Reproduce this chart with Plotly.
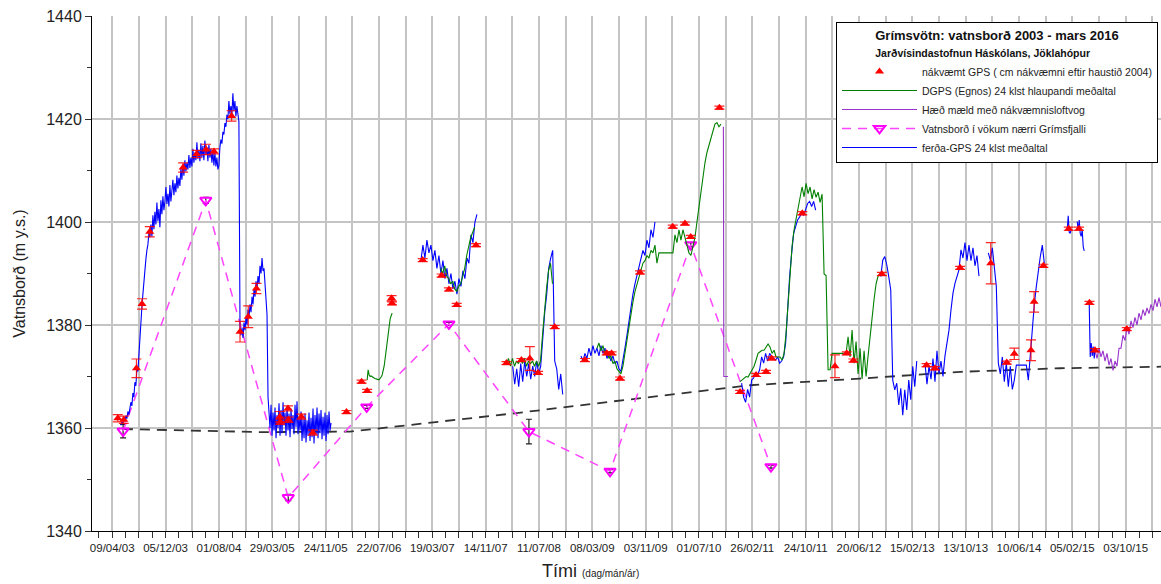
import pandas as pd
import plotly.graph_objects as go

# ---------------- data ----------------
X_LABELS = ["09/04/03", "05/12/03", "01/08/04", "29/03/05", "24/11/05", "22/07/06",
            "19/03/07", "14/11/07", "11/07/08", "08/03/09", "03/11/09", "01/07/10",
            "26/02/11", "24/10/11", "20/06/12", "15/02/13", "13/10/13", "10/06/14",
            "05/02/15", "03/10/15"]
TICK_START = "2003-04-09"

# blue: ferða-GPS 24 klst meðaltal  (start date, sampling step in days, values); None = data gap
BLUE = [
    ("2003-05-18", 4.5, [1360.5, 1361.2, 1360.8, 1361.9, 1361.3, 1362.4, 1361.8, 1363.2, 1362.6, 1364.1,
                         1365.0, 1364.3, 1366.8, 1366.0, 1368.9, 1368.2, 1371.5, 1371.0, 1374.8, 1376.5,
                         1380.0, 1383.5, 1386.0, 1388.9, 1391.0, 1392.8, 1394.5, 1395.6, 1397.8, 1397.0,
                         1399.5, 1397.2, 1401.3, 1398.6, 1402.0, 1399.5, 1403.8, 1400.2, 1402.5, 1399.0,
                         1404.2, 1401.5, 1405.0, 1402.3, 1404.0, 1406.8, 1403.5, 1405.5, 1403.0, 1407.2,
                         1404.0, 1406.5, 1408.2, 1405.2, 1407.5, 1405.8, 1409.0, 1406.5, 1408.6, 1407.0,
                         1410.5, 1408.2, 1411.2, 1409.0, 1412.0, 1409.8, 1411.5, 1410.2, 1413.0, 1410.5,
                         1412.5, 1410.8, 1414.2, 1411.5, 1413.5, 1412.0, 1415.5, 1412.3, 1414.0, 1411.8,
                         1415.3, 1412.5, 1414.8, 1412.0, 1415.8, 1413.0, 1414.5, 1411.8, 1415.0, 1412.5,
                         1414.2, 1411.5, 1413.8, 1411.0, 1413.5, 1410.8, 1412.5, 1410.2, 1411.0, 1414.5,
                         1416.0, 1415.2, 1417.5, 1417.0, 1419.2, 1418.5, 1420.8, 1420.0, 1423.5, 1421.0,
                         1422.5, 1420.8, 1425.0, 1421.5, 1423.5, 1420.5, 1422.5, 1421.0, 1419.5]),
    ("2004-11-04", 4.5, [1379.0, 1378.0, 1379.5, 1377.5, 1380.5, 1379.0, 1381.5, 1380.0, 1383.0, 1381.5,
                         1384.0, 1382.5, 1385.5, 1384.0, 1387.0, 1385.5, 1388.5, 1387.0, 1389.5, 1388.0,
                         1391.5, 1390.0, 1393.0, 1390.5, 1391.0, 1388.5, 1386.0, 1382.0, 1366.0, 1363.0,
                         1360.0, 1364.5, 1358.5, 1363.0, 1359.5, 1364.0, 1358.0, 1362.5, 1360.0, 1364.8,
                         1358.5, 1363.5, 1359.0, 1365.0, 1360.5, 1363.0, 1358.5, 1364.2, 1359.5, 1362.8,
                         1358.2, 1363.8, 1359.8, 1362.5, 1358.8, 1364.5, 1360.2, 1365.2, 1358.8, 1362.0,
                         1359.5, 1363.2, 1357.5, 1361.8, 1358.0, 1362.8, 1357.2, 1361.5, 1358.5, 1363.0,
                         1357.5, 1362.0, 1358.2, 1363.8, 1357.0, 1362.5, 1358.8, 1364.0, 1358.0, 1362.8,
                         1359.0, 1363.5, 1357.8, 1362.2, 1358.5, 1363.0, 1357.5, 1362.5, 1358.8, 1363.2,
                         1359.5, 1361.0]),
    None,
    ("2007-01-27", 9, [1392.5, 1395.5, 1393, 1396.5, 1394, 1395.5, 1392.5, 1394.5, 1391, 1393.5,
                       1390, 1392.5, 1389, 1391, 1388, 1390, 1387, 1388.5, 1386, 1389,
                       1387.5, 1390.5, 1389, 1393, 1392, 1397.5, 1396, 1400, 1401.5]),
    None,
    ("2008-03-15", 9, [1372, 1368.5, 1371.5, 1368, 1372.5, 1369, 1373, 1370, 1372.5, 1369.5,
                       1372, 1370, 1373, 1370.5, 1372, 1378, 1382.5, 1386, 1391, 1393,
                       1394.5, 1373, 1371.5, 1367.5, 1370.5, 1366.5]),
    None,
    ("2009-01-16", 9, [1374, 1373, 1374.5, 1373.5, 1375.5, 1374, 1376, 1374.5, 1375.5, 1374,
                       1376, 1374.5, 1375.5, 1373.5, 1374.5, 1373, 1374, 1372.5, 1373, 1371.5,
                       1371, 1373, 1375.5, 1378, 1381, 1383.5, 1386, 1388, 1389.5, 1391.5,
                       1393, 1394.5, 1393.5, 1396.5, 1395, 1398.5, 1397, 1400]),
    None,
    ("2011-01-09", 9, [1368.7, 1366, 1365, 1367.5, 1366, 1369.3, 1369.7, 1370.7, 1370.3, 1371.3,
                       1373.8, 1372.6, 1374.5, 1373, 1374.5, 1373.8, 1373.5, 1373.2, 1373.8, 1372.6,
                       1373, 1373.8, 1376.5, 1383.6, 1389.4, 1393.9, 1397.8, 1399.1, 1400.4, 1401,
                       1401.7, 1401.3, 1402.3, 1403.6, 1404, 1403, 1404, 1402.3]),
    None,
    ("2012-09-26", 9, [1389.4, 1392.6, 1393.3, 1391.7, 1389.4, 1386.8, 1369.3, 1367.4, 1368.7, 1364.5,
                       1367.7, 1362.5, 1367.4, 1363.5, 1369.3, 1365.5, 1372, 1368, 1373]),
    None,
    ("2013-04-13", 9, [1372.6, 1368.5, 1372, 1369.5, 1373.5, 1369, 1375, 1370.5, 1373, 1370,
                       1374, 1376.4, 1379, 1382.9, 1386.2, 1388.1, 1389.4, 1390.7, 1394.6, 1393,
                       1396, 1392.5, 1395.5, 1392.5, 1395, 1391.5, 1393.5, 1389.5]),
    None,
    ("2014-01-23", 9, [1394, 1392.6, 1395, 1391, 1387.5, 1372.6, 1370.5, 1373.8, 1369, 1372.6,
                       1368, 1372, 1367.5, 1369.3, 1372.2, 1372.2, 1372.2, 1372.2, 1372.2, 1372.2,
                       1369.3, 1374.5, 1379, 1384, 1387.5, 1391, 1393.3, 1395.5, 1392]),
    None,
    ("2015-01-13", 4.5, [1398.5, 1401.2, 1398, 1397.8, 1398.6]),
    None,
    ("2015-02-27", 4.5, [1400.1, 1398.5, 1400.4, 1397.8, 1397.2, 1398.5, 1395.2, 1394.4]),
    None,
    ("2015-04-22", 4.5, [1384.2, 1373.8, 1376.5, 1374, 1375.8, 1373.5, 1375.3]),
]

# green: DGPS (Egnos) 24 klst hlaupandi meðaltal
GREEN = [
    ("2006-05-30", 4.5, [1369.3, 1371.3, 1370.3, 1370, 1370.1, 1369.9, 1369.8, 1369.7, 1369.6, 1369.5,
                         1369.4, 1369.4, 1369.4, 1369.6, 1369.9, 1370.3, 1371, 1372, 1373.5, 1375,
                         1377, 1379, 1380.4, 1381.2, 1381.8, 1382.3]),
    None,
    ("2007-04-26", 9, [1391, 1390, 1391.5, 1389.5, 1389, 1388, 1388.5, 1387, 1386.5, 1387.5,
                       1388, 1389.5, 1391, 1393.5, 1395.5, 1397, 1398, 1399]),
    None,
    ("2008-02-16", 9, [1372.5, 1373.5, 1372, 1373.5, 1372, 1373, 1372.5, 1373.5, 1372.5, 1373.5,
                       1372, 1373, 1372.5, 1373, 1372, 1373, 1372, 1373, 1378, 1383,
                       1387, 1390.5, 1392, 1388]),
    None,
    ("2009-03-29", 9, [1375.5, 1376.5, 1375, 1376, 1374.5, 1375, 1373.5, 1374, 1372.5, 1373,
                       1371.5, 1371, 1370.5, 1372, 1374.5, 1377, 1380, 1382.5, 1384.5, 1386.5,
                       1388, 1389.5, 1390.5, 1392, 1392.5, 1393.5, 1393, 1394.5, 1394, 1395.5,
                       1392, 1394, 1394, 1394, 1394, 1394, 1394, 1394, 1394, 1397.5,
                       1396, 1398.5, 1396.5, 1398.5, 1397, 1395.5, 1394, 1393.5, 1395.5, 1397,
                       1400, 1403, 1406, 1409, 1411.5, 1413.5, 1415, 1416.5, 1418, 1419,
                       1419.3, 1418.5, 1419]),
    None,
    ("2011-01-02", 9, [1369, 1369.3, 1369.7, 1370, 1369.9, 1370.6, 1371.3, 1372, 1373.2, 1374.5,
                       1374.8, 1375.1, 1375.1, 1375.7, 1376.3, 1375.7, 1374.5, 1375.1, 1373.8, 1373.8,
                       1373.8, 1373.2, 1374.5, 1378.4, 1384.3, 1390.1, 1395.3, 1398.5, 1400.5, 1402.5,
                       1404.4, 1406.8, 1404.9, 1407.5, 1405.5, 1406.8, 1404.5, 1406.3, 1404.8, 1405.8,
                       1403.8, 1405.4, 1389.9, 1389.6, 1371.3, 1371.3, 1374.5, 1374.5, 1374.5, 1374.5,
                       1374.5, 1374.5, 1374.5, 1374.5, 1377.7, 1373.8, 1379, 1372.6, 1376.8, 1370.5,
                       1375.5, 1369.5, 1375, 1370, 1374, 1377.7, 1382, 1385, 1388, 1389.5,
                       1390, 1390.5]),
]

# purple: Hæð mæld með nákvæmnisloftvog
PURPLE = [
    ("2010-10-19", 2, [1418.5, 1370]),
    ("2010-11-09", 1, [1370]),
    None,
    ("2015-05-18", 9, [1375.1, 1373.5, 1375.5, 1373.8, 1375, 1373, 1374.5, 1372.2, 1373.5, 1371.2,
                       1373, 1372, 1375.5, 1375.5, 1378, 1377, 1379.5, 1378.2, 1380.8, 1379.5,
                       1381.5, 1380, 1382.3, 1381, 1383, 1381.8, 1383.3, 1382.2, 1384, 1382.8,
                       1385, 1383.5, 1385.3, 1383.5]),
]

# red: nákvæmt GPS
GPS_DATES = ["2003-05-04", "2003-05-31", "2003-07-27", "2003-08-21", "2003-09-25", "2004-02-22",
             "2004-04-23", "2004-06-04", "2004-07-10", "2004-09-27", "2004-11-04", "2004-12-11",
             "2005-01-17", "2005-05-02", "2005-05-04", "2005-06-08", "2005-06-10", "2005-08-07",
             "2005-09-28", "2006-02-26", "2006-05-05", "2006-05-30", "2006-09-17", "2006-09-19",
             "2007-02-04", "2007-04-30", "2007-06-02", "2007-07-07", "2007-10-02", "2008-02-16",
             "2008-04-23", "2008-05-31", "2008-07-07", "2008-09-20", "2009-02-03", "2009-05-12",
             "2009-06-03", "2009-07-11", "2009-10-09", "2010-03-05", "2010-04-29", "2010-05-25",
             "2010-10-01", "2011-01-02", "2011-03-15", "2011-04-29", "2011-05-24", "2011-10-09",
             "2012-03-04", "2012-04-26", "2012-05-26", "2012-10-01", "2013-04-20", "2013-05-28",
             "2013-09-18", "2014-02-03", "2014-04-16", "2014-05-20", "2014-08-03", "2014-08-17",
             "2014-09-28", "2015-01-20", "2015-03-07", "2015-04-23", "2015-05-18", "2015-10-08"]
GPS_VALUES = [1361.9, 1361.6, 1371.6, 1384.1, 1398.1, 1410.6,
              1413.2, 1414.1, 1413.7, 1420.6, 1378.7, 1381.6,
              1387.1, 1362.2, 1361.2, 1363.8, 1361.6, 1362.2,
              1359.1, 1363.1, 1369.0, 1367.2, 1385.2, 1384.2,
              1392.6, 1389.6, 1386.9, 1383.9, 1395.5, 1372.6,
              1373.2, 1373.5, 1370.7, 1379.6, 1373.2, 1374.5,
              1374.5, 1369.6, 1390.2, 1399.1, 1399.7, 1397.1,
              1422.2, 1367.0, 1370.3, 1370.9, 1373.5, 1401.7,
              1372.0, 1374.5, 1373.1, 1389.9, 1372.2, 1371.6,
              1391.1, 1392.0, 1372.7, 1374.4, 1375.1, 1384.5,
              1391.5, 1398.7, 1398.7, 1384.3, 1375.1, 1379.2]
GPS_ERR = [0.7, 0.7, 1.8, 1.0, 1.0, 0.9,
           0.7, 1.0, 0.5, 1.0, 2.0, 2.1,
           1.0, 1.0, 0.5, 0.5, 0.5, 0.5,
           0.5, 0.3, 0.3, 0.3, 0.5, 0.3,
           0.3, 0.3, 0.3, 0.3, 0.3, 0.3,
           0.3, 2.3, 0.3, 0.3, 0.3, 0.3,
           0.3, 0.3, 0.3, 0.3, 0.3, 0.3,
           0.3, 0.3, 0.3, 0.3, 0.3, 0.3,
           2.2, 0.3, 0.3, 0.3, 0.3, 0.3,
           0.3, 4.0, 0.3, 1.1, 2.0, 2.0,
           0.3, 0.3, 0.3, 0.3, 0.3, 0.3]

# magenta: Vatnsborð í vökum nærri Grímsfjalli
MAG_DATES = ["2003-05-28", "2004-06-03", "2005-06-09", "2006-05-28", "2007-06-02",
             "2008-05-27", "2009-05-27", "2010-05-25", "2011-05-21"]
MAG_VALUES = [1359.4, 1404.2, 1346.5, 1364.1, 1380.2, 1359.3, 1351.6, 1395.6, 1352.5]
MAG_ERR = [1.3, 0.6, 0.6, 0.3, 0.3, 2.4, 0.3, 0.4, 0.3]

# black dashed reference curve
TREND_DATES = ["2003-05-27", "2005-02-15", "2006-03-14", "2007-03-09", "2008-04-02",
               "2009-05-27", "2011-02-16", "2012-06-25", "2013-09-18", "2014-12-12", "2016-03-10"]
TREND_VALUES = [1359.8, 1359.2, 1359.3, 1361.0, 1362.9, 1365.1, 1368.3, 1369.6, 1370.9, 1371.6, 1371.9]


def build(pieces):
    xs, ys = [], []
    for p in pieces:
        if p is None:
            xs.append(None)
            ys.append(None)
            continue
        start, step, vals = p
        t0 = pd.Timestamp(start)
        for i, v in enumerate(vals):
            xs.append((t0 + pd.Timedelta(days=step * i)).strftime("%Y-%m-%d %H:%M"))
            ys.append(v)
    return xs, ys


FONT = "Arial, 'Liberation Sans', sans-serif"

fig = go.Figure()

fig.add_trace(go.Scatter(x=TREND_DATES, y=TREND_VALUES, mode="lines",
                         line=dict(color="#333333", width=1.8, dash="10px,7px"),
                         showlegend=False, hoverinfo="skip"))

fig.add_trace(go.Scatter(x=MAG_DATES, y=MAG_VALUES, mode="lines+markers",
                         name="Vatnsborð í vökum nærri Grímsfjalli", legendrank=4,
                         line=dict(color="#ff44ff", width=1.5, dash="9px,7px"),
                         marker=dict(symbol="triangle-down-open", size=10, color="#ff00ff",
                                     line=dict(width=2, color="#ff00ff")),
                         error_y=dict(type="data", array=MAG_ERR, color="#222222",
                                      thickness=1.2, width=3)))

bx, by = build(BLUE)
fig.add_trace(go.Scatter(x=bx, y=by, mode="lines", name="ferða-GPS 24 klst meðaltal",
                         legendrank=5, line=dict(color="#0000ff", width=1.1)))

gx, gy = build(GREEN)
fig.add_trace(go.Scatter(x=gx, y=gy, mode="lines", name="DGPS (Egnos) 24 klst hlaupandi meðaltal",
                         legendrank=2, line=dict(color="#008000", width=1.1)))

px_, py_ = build(PURPLE)
fig.add_trace(go.Scatter(x=px_, y=py_, mode="lines", name="Hæð mæld með nákvæmnisloftvog",
                         legendrank=3, line=dict(color="#9933cc", width=1.1)))

fig.add_trace(go.Scatter(x=GPS_DATES, y=GPS_VALUES, mode="markers",
                         name="nákvæmt GPS ( cm nákvæmni eftir haustið 2004)", legendrank=1,
                         marker=dict(symbol="triangle-up", size=8, color="#ff0000"),
                         error_y=dict(type="data", array=GPS_ERR, color="rgba(255,0,0,0.85)",
                                      thickness=1.2, width=5)))

t0 = pd.Timestamp(TICK_START)
tickvals = [(t0 + pd.Timedelta(days=120 * k)).strftime("%Y-%m-%d") for k in range(2 * len(X_LABELS))]
ticktext = [X_LABELS[k // 2] if k % 2 == 0 else "" for k in range(2 * len(X_LABELS))]
minorvals = [(t0 + pd.Timedelta(days=60 * k)).strftime("%Y-%m-%d") for k in range(-1, 80)]

fig.update_layout(
    width=1161, height=584,
    margin=dict(l=92, r=0, t=16, b=53),
    paper_bgcolor="white", plot_bgcolor="white",
    font=dict(family=FONT, color="#222222"),
    showlegend=True,
    legend=dict(
        x=0.9972, xanchor="right", y=0.988, yanchor="top",
        bgcolor="white", bordercolor="black", borderwidth=1,
        font=dict(size=10.5, family=FONT, color="#222222"),
        itemwidth=75, tracegroupgap=0,
        title=dict(
            text="<b>Grímsvötn: vatnsborð 2003 - mars 2016</b><br>"
                 "<span style='font-size:10.5px'><b>Jarðvísindastofnun Háskólans, Jöklahópur</b></span>",
            font=dict(size=13, family=FONT, color="#111111"),
            side="top center"),
    ),
    xaxis=dict(
        type="date", range=["2003-01-08", "2016-03-10"],
        tickmode="array", tickvals=tickvals, ticktext=ticktext,
        ticks="outside", ticklen=6, tickcolor="#333333",
        tickfont=dict(size=11.5, family=FONT, color="#222222"),
        showgrid=True, gridcolor="#c4c4c4", gridwidth=1.6,
        showline=True, linecolor="black", linewidth=1,
        zeroline=False,
        minor=dict(tickmode="array", tickvals=minorvals, ticks="outside", ticklen=6,
                   tickcolor="#333333", showgrid=False),
    ),
    yaxis=dict(
        range=[1340, 1440], tickmode="linear", tick0=1340, dtick=20,
        ticks="outside", ticklen=6, tickcolor="#333333",
        tickfont=dict(size=16, family=FONT, color="#222222"),
        showgrid=True, gridcolor="#c4c4c4", gridwidth=1.6,
        showline=True, linecolor="black", linewidth=1,
        zeroline=False,
        title=dict(text="Vatnsborð (m y.s.)", font=dict(size=16, family=FONT, color="#222222"),
                   standoff=16),
        minor=dict(tickmode="linear", dtick=10, ticks="outside", ticklen=4,
                   tickcolor="#333333", showgrid=False),
    ),
    annotations=[dict(
        text="Tími <span style='font-size:10px'>(dag/mán/ár)</span>",
        xref="paper", yref="paper", x=0.419, y=-0.077, xanchor="left", yanchor="middle",
        showarrow=False, font=dict(size=18, family=FONT, color="#222222"))],
)

fig.write_html("out.html")
